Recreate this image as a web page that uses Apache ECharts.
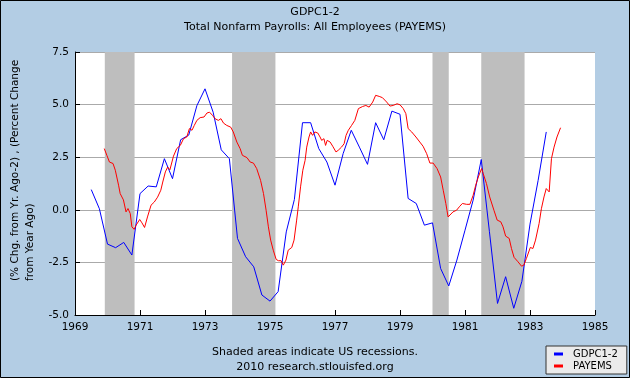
<!DOCTYPE html>
<html>
<head>
<meta charset="utf-8">
<script src="https://cdn.jsdelivr.net/npm/echarts@6/dist/echarts.min.js"></script>
<style>
html,body{margin:0;padding:0;background:#b3cde4;}
#chart{width:630px;height:378px;}
</style>
</head>
<body>
<div id="chart"></div>
<script>
// ---- Data (decimal years on x) ----
const gdpDates = [1969.5,1969.75,1970.0,1970.25,1970.5,1970.75,1971.0,1971.25,1971.5,1971.75,
  1972.0,1972.25,1972.5,1972.75,1973.0,1973.25,1973.5,1973.75,1974.0,1974.25,1974.5,1974.75,
  1975.0,1975.25,1975.5,1975.75,1976.0,1976.25,1976.5,1976.75,1977.0,1977.25,1977.5,1977.75,
  1978.0,1978.25,1978.5,1978.75,1979.0,1979.25,1979.5,1979.75,1980.0,1980.25,1980.5,1980.75,
  1981.0,1981.25,1981.5,1981.75,1982.0,1982.25,1982.5,1982.75,1983.0,1983.25,1983.5];
const gdpValues = [0.96,0.05,-1.63,-1.80,-1.55,-2.15,0.77,1.13,1.09,2.43,
  1.48,3.33,3.55,4.95,5.75,4.64,2.85,2.43,-1.36,-2.23,-2.71,-4.05,
  -4.34,-3.89,-1.05,0.49,4.14,4.14,2.91,2.27,1.17,2.67,3.78,2.98,
  2.16,4.14,3.33,4.69,4.54,0.54,0.30,-0.73,-0.62,-2.79,-3.62,-2.39,
  -0.97,0.46,2.39,-1.02,-4.45,-3.18,-4.68,-3.40,-0.68,1.40,3.70];

const payDates = [1969.90,1969.98,1970.06,1970.17,1970.24,1970.34,1970.39,1970.49,1970.57,1970.63,
  1970.70,1970.75,1970.82,1970.88,1970.99,1971.06,1971.14,1971.23,1971.34,1971.44,
  1971.54,1971.64,1971.70,1971.78,1971.85,1971.92,1972.03,1972.13,1972.24,1972.34,
  1972.44,1972.52,1972.60,1972.67,1972.75,1972.85,1972.97,1973.06,1973.14,1973.23,
  1973.31,1973.41,1973.49,1973.57,1973.67,1973.79,1973.87,1973.98,1974.08,1974.15,
  1974.29,1974.39,1974.49,1974.59,1974.71,1974.80,1974.88,1974.95,1975.02,1975.10,
  1975.19,1975.26,1975.34,1975.41,1975.49,1975.56,1975.67,1975.74,1975.82,1975.87,
  1975.94,1976.01,1976.08,1976.13,1976.20,1976.25,1976.31,1976.38,1976.47,1976.54,
  1976.59,1976.66,1976.71,1976.76,1976.85,1976.93,1977.03,1977.10,1977.20,1977.28,
  1977.34,1977.41,1977.51,1977.61,1977.72,1977.85,1977.95,1978.05,1978.16,1978.25,
  1978.36,1978.46,1978.59,1978.69,1978.79,1978.91,1979.00,1979.10,1979.18,1979.25,
  1979.36,1979.49,1979.61,1979.71,1979.82,1979.92,1980.02,1980.14,1980.25,1980.33,
  1980.41,1980.48,1980.53,1980.63,1980.74,1980.84,1980.92,1981.05,1981.15,1981.25,
  1981.33,1981.41,1981.51,1981.56,1981.66,1981.76,1981.89,1981.99,1982.10,1982.17,
  1982.25,1982.36,1982.43,1982.51,1982.63,1982.74,1982.81,1982.89,1983.01,1983.09,
  1983.17,1983.28,1983.35,1983.43,1983.50,1983.59,1983.66,1983.74,1983.83,1983.94];
const payValues = [2.91,2.59,2.27,2.20,1.88,1.17,0.77,0.47,-0.10,0.06,
  -0.18,-0.81,-0.93,-0.73,-0.46,-0.62,-0.84,-0.34,0.22,0.37,
  0.60,0.93,1.32,1.80,2.03,1.90,2.55,2.91,3.06,3.38,
  3.46,3.86,3.78,4.01,4.25,4.38,4.41,4.60,4.64,4.49,
  4.33,4.25,4.33,4.12,4.01,3.93,3.70,3.22,2.91,2.59,
  2.48,2.27,2.22,1.96,1.40,0.77,-0.02,-0.81,-1.44,-1.92,
  -2.36,-2.42,-2.42,-2.63,-2.39,-1.92,-1.79,-1.44,-0.49,0.14,
  1.09,1.88,2.35,2.98,3.46,3.70,3.54,3.70,3.65,3.46,
  3.30,3.38,3.06,3.30,3.22,3.02,2.75,2.83,2.98,3.14,
  3.54,3.78,4.01,4.25,4.81,4.91,4.96,4.88,5.12,5.44,
  5.39,5.33,5.12,4.93,4.96,5.04,4.99,4.81,4.57,3.86,
  3.70,3.46,3.22,3.02,2.67,2.22,2.22,1.96,1.56,0.93,
  0.30,-0.34,-0.26,-0.10,-0.02,0.17,0.30,0.26,0.26,0.69,
  1.17,1.56,1.96,1.72,1.25,0.61,-0.02,-0.49,-0.57,-0.81,
  -1.25,-1.36,-1.84,-2.26,-2.47,-2.68,-2.63,-2.31,-1.79,-1.84,
  -1.44,-0.65,0.05,0.61,1.01,0.85,2.43,2.98,3.46,3.90];

const recessionStart = [1969.917,1973.833,1980.0,1981.5];
const recessionEnd   = [1970.833,1975.167,1980.5,1982.833];

const yTicks = [-5.0,-2.5,0.0,2.5,5.0,7.5];
const xTicks = [1969,1971,1973,1975,1977,1979,1981,1983,1985];

const FONT = 'DejaVu Sans';
const chart = echarts.init(document.getElementById('chart'), null, {renderer:'canvas'});
const txt = (s) => Object.assign({fontFamily:FONT, fontSize:10.5, color:'#000', fontWeight:'normal'}, s||{});

chart.setOption({
  backgroundColor:'#b3cde4',
  animation:false,
  title:[
    {text:'GDPC1-2', left:'center', top:7, padding:0, textStyle:txt({fontSize:11})},
    {text:'Total Nonfarm Payrolls: All Employees (PAYEMS)', left:'center', top:22, padding:0, textStyle:txt({fontSize:11})},
    {text:'Shaded areas indicate US recessions.', left:'center', top:347, padding:0, textStyle:txt({fontSize:11})},
    {text:'2010 research.stlouisfed.org', left:'center', top:362, padding:0, textStyle:txt({fontSize:11})}
  ],
  grid:{left:75, right:35, top:52, bottom:63, show:true, backgroundColor:'#ffffff', borderWidth:0},
  xAxis:{type:'value', min:xTicks[0], max:xTicks[xTicks.length-1], interval:2,
    axisLine:{show:true, onZero:false, lineStyle:{color:'#000', width:1}},
    axisTick:{show:true, inside:true, length:5, lineStyle:{color:'#000'}},
    axisLabel:Object.assign(txt(), {margin:7, formatter:(v)=>String(v)}),
    splitLine:{show:false}},
  yAxis:{type:'value', min:yTicks[0], max:yTicks[yTicks.length-1], interval:2.5,
    axisLine:{show:true, onZero:false, lineStyle:{color:'#000', width:1}},
    axisTick:{show:true, inside:true, length:5, lineStyle:{color:'#000'}},
    axisLabel:Object.assign(txt(), {margin:6, formatter:(v)=>v.toFixed(1)}),
    splitLine:{show:true, lineStyle:{color:'#aaaaaa', width:1}}},
  legend:{orient:'vertical', left:546, top:346, padding:[2,9,2,8], itemGap:0,
    itemWidth:9, itemHeight:3, icon:'rect',
    backgroundColor:'#ebebeb', borderColor:'#333', borderWidth:1,
    textStyle:Object.assign(txt({fontSize:10}), {lineHeight:12, padding:[0,0,0,5]}),
    data:['GDPC1-2','PAYEMS']},
  graphic:[
    {type:'text', x:15, y:281, rotation:Math.PI/2,
      style:{text:'(% Chg. from Yr. Ago-2) , (Percent Change', font:'10.5px "DejaVu Sans"', fill:'#000', align:'left', verticalAlign:'middle'}},
    {type:'text', x:30, y:281, rotation:Math.PI/2,
      style:{text:'from Year Ago)', font:'10.5px "DejaVu Sans"', fill:'#000', align:'left', verticalAlign:'middle'}},
    {type:'rect', shape:{x:0.5, y:0.5, width:629, height:377}, style:{fill:'none', stroke:'#000', lineWidth:1}, z:100}
  ],
  series:[
    {name:'recessions', type:'line', data:[], z:1, silent:true,
      markArea:{silent:true, itemStyle:{color:'#bebebe'},
        data:recessionStart.map((s,i)=>[{xAxis:s},{xAxis:recessionEnd[i]}])}},
    {name:'GDPC1-2', type:'line', z:3, showSymbol:false, symbol:'none', color:'#0000ff',
      lineStyle:{color:'#0000ff', width:1},
      data:gdpDates.map((d,i)=>[d, gdpValues[i]])},
    {name:'PAYEMS', type:'line', z:3, showSymbol:false, symbol:'none', color:'#ff0000',
      lineStyle:{color:'#ff0000', width:1},
      data:payDates.map((d,i)=>[d, payValues[i]])}
  ]
});
</script>
</body>
</html>
